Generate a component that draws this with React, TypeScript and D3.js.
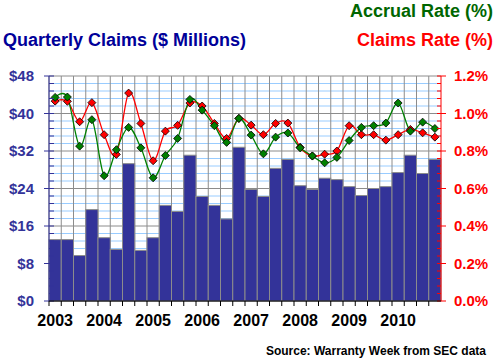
// Quarterly warranty claims with claims & accrual rates, D3 scales + React SVG
import * as d3 from "d3";

const years = ["2003", "2004", "2005", "2006", "2007", "2008", "2009", "2010"];
const quarters = years.flatMap((y) => [1, 2, 3, 4].map((q) => `${y} Q${q}`));

// $ millions
const claims = [
  13.1, 13.1, 9.7, 19.5, 13.5, 11.0, 29.3, 10.8, 13.5, 20.4, 19.1, 31.1,
  22.3, 20.4, 17.5, 32.8, 23.8, 22.3, 28.3, 30.2, 24.6, 23.8, 26.2, 25.9,
  24.4, 22.5, 24.0, 24.4, 27.4, 31.1, 27.2, 30.2,
];

// percent
const claimsRate = [
  1.066, 1.065, 0.956, 1.058, 0.887, 0.782, 1.109, 0.947, 0.748, 0.906, 0.937, 1.056,
  1.04, 0.947, 0.867, 0.974, 0.938, 0.887, 0.947, 0.949, 0.82, 0.773, 0.783, 0.8,
  0.935, 0.887, 0.887, 0.858, 0.887, 0.915, 0.897, 0.874,
];

const accrualRate = [
  1.086, 1.088, 0.826, 0.967, 0.668, 0.807, 0.926, 0.817, 0.657, 0.776, 0.867, 1.075,
  1.018, 0.935, 0.846, 0.974, 0.885, 0.785, 0.874, 0.896, 0.817, 0.774, 0.737, 0.766,
  0.856, 0.926, 0.935, 0.949, 1.056, 0.906, 0.954, 0.92,
];

const leftTicks = [0, 8, 16, 24, 32, 40, 48];
const rightTicks = [0, 0.2, 0.4, 0.6, 0.8, 1.0, 1.2];

const W = 496;
const H = 362;
const plot = { left: 49, right: 441, top: 76, bottom: 301 };
const FONT = "'Liberation Sans', Arial, sans-serif";

const diamond = (r: number) => `M0,${-r}L${r},0L0,${r}L${-r},0Z`;

export default function App() {
  const x = d3
    .scaleBand<string>()
    .domain(quarters)
    .range([plot.left, plot.right])
    .padding(0);
  const bw = x.bandwidth();

  const yL = d3.scaleLinear().domain([0, 48]).range([plot.bottom, plot.top]);
  const yR = d3.scaleLinear().domain([0, 1.2]).range([plot.bottom, plot.top]);

  // minor steps: 5 per major
  const minor = d3.range(0, 48.001, 1.6);

  const line = (vals: number[]) =>
    d3
      .line<number>()
      .x((_, i) => x(quarters[i])! + bw / 2)
      .y((d) => yR(d))
      .curve(d3.curveCardinal.tension(0))(vals) as string;

  const series = [
    { vals: claimsRate, color: "#FF0000" },
    { vals: accrualRate, color: "#008000" },
  ];

  return (
    <svg
      width={W}
      height={H}
      style={{ position: "absolute", left: 0, top: 0, background: "#fff" }}
      fontFamily={FONT}
      fontWeight="bold"
    >
      {/* grid */}
      {minor.map((v, i) => (
        <line
          key={"h" + i}
          x1={plot.left}
          x2={plot.right}
          y1={yL(v)}
          y2={yL(v)}
          stroke={i % 5 === 0 ? "#8c8c8c" : "#99ccff"}
          strokeWidth={1}
        />
      ))}
      {quarters.map((q) => (
        <line
          key={"v" + q}
          x1={x(q)}
          x2={x(q)}
          y1={plot.top}
          y2={plot.bottom}
          stroke="#8c8c8c"
        />
      ))}

      {/* bars */}
      {claims.map((d, i) => (
        <rect
          key={i}
          x={x(quarters[i])}
          y={yL(d)}
          width={bw}
          height={plot.bottom - yL(d)}
          fill="#333399"
          stroke="#8c8c8c"
          strokeWidth={1}
        />
      ))}

      {/* lines */}
      {series.map((s) => (
        <path key={s.color} d={line(s.vals)} fill="none" stroke={s.color} strokeWidth={1.3} />
      ))}
      {series.map((s) =>
        s.vals.map((d, i) => (
          <path
            key={s.color + i}
            d={diamond(4)}
            transform={`translate(${x(quarters[i])! + bw / 2},${yR(d)})`}
            fill={s.color}
            stroke="#000"
            strokeWidth={0.8}
          />
        ))
      )}

      {/* left axis */}
      <line x1={plot.left} x2={plot.left} y1={plot.top} y2={plot.bottom} stroke="#333399" />
      {minor.map((v, i) => (
        <line
          key={"lt" + i}
          x1={i % 5 === 0 ? plot.left - 5 : plot.left}
          x2={plot.left + 5}
          y1={yL(v)}
          y2={yL(v)}
          stroke="#333399"
        />
      ))}
      {leftTicks.map((t) => (
        <text
          key={"ll" + t}
          x={34}
          y={yL(t)}
          dy="0.36em"
          textAnchor="end"
          fontSize={15}
          fill="#333399"
        >
          {"$" + t}
        </text>
      ))}

      {/* right axis */}
      <line x1={plot.right} x2={plot.right} y1={plot.top} y2={plot.bottom} stroke="#FF0000" />
      {minor.map((v, i) => (
        <line
          key={"rt" + i}
          x1={plot.right - 4}
          x2={i % 5 === 0 ? plot.right + 5 : plot.right}
          y1={yL(v)}
          y2={yL(v)}
          stroke="#FF0000"
        />
      ))}
      {rightTicks.map((t) => (
        <text
          key={"rl" + t}
          x={454}
          y={yR(t)}
          dy="0.36em"
          fontSize={15}
          fill="#FF0000"
        >
          {d3.format(".1f")(t) + "%"}
        </text>
      ))}

      {/* bottom axis */}
      <line x1={plot.left} x2={plot.right} y1={plot.bottom} y2={plot.bottom} stroke="#000" />
      {quarters.map((q) => (
        <line
          key={"bt" + q}
          x1={x(q)}
          x2={x(q)}
          y1={plot.bottom}
          y2={plot.bottom + 5}
          stroke="#000"
        />
      ))}
      {years.map((yr) => (
        <text
          key={yr}
          x={x(`${yr} Q1`)! + bw / 2}
          y={326}
          textAnchor="middle"
          fontSize={16}
          fill="#000"
        >
          {yr}
        </text>
      ))}

      {/* titles */}
      <text x={3} y={45.5} fontSize={18} fill="#000099">
        Quarterly Claims ($ Millions)
      </text>
      <text x={493} y={17} fontSize={18} fill="#006600" textAnchor="end">
        Accrual Rate (%)
      </text>
      <text x={493} y={45.5} fontSize={18} fill="#FF0000" textAnchor="end">
        Claims Rate (%)
      </text>
      <text x={486} y={355} fontSize={12} fill="#000" textAnchor="end">
        Source: Warranty Week from SEC data
      </text>
    </svg>
  );
}
